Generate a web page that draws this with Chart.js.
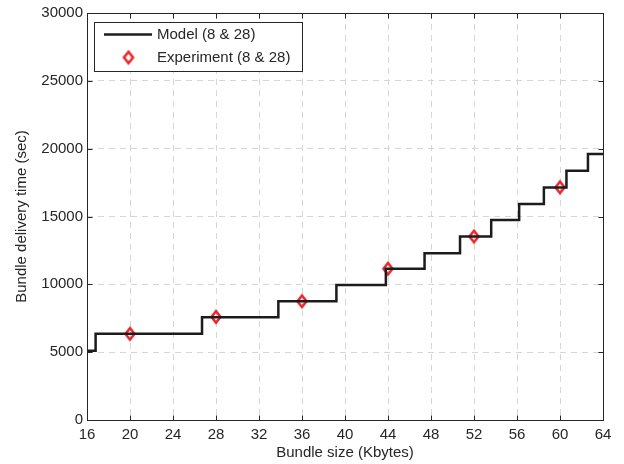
<!DOCTYPE html>
<html>
<head>
<meta charset="utf-8">
<script src="https://cdn.jsdelivr.net/npm/chart.js@4"></script>
<style>
  html, body { margin: 0; padding: 0; background: #fff; }
  #wrap { width: 624px; height: 464px; }
</style>
</head>
<body>
<div id="wrap"><canvas id="delayChart" width="624" height="464"></canvas></div>
<script>
// model: bundle size at which each step starts, and the delivery time of that step
const modelSize = [16, 16.8, 26.7, 33.8, 39.2, 43.8, 47.4, 50.7, 53.6, 56.2, 58.5, 60.6, 62.6, 64];
const modelTime = [5100, 6350, 7580, 8750, 9950, 11150, 12300, 13530, 14750, 15920, 17130, 18380, 19600, 19600];
// measured points
const expSize = [20, 28, 36, 44, 52, 60];
const expTime = [6350, 7600, 8750, 11150, 13530, 17150];
// axis ticks
const xTicks = [16, 20, 24, 28, 32, 36, 40, 44, 48, 52, 56, 60, 64];
const yTicks = [0, 5000, 10000, 15000, 20000, 25000, 30000];

const FONT = 'Liberation Sans, Arial, Helvetica, sans-serif';
const INK = '#262626';
const RED = '#e8262d';

// tall open diamond used for the experiment markers
function diamond(w, h, lw, color) {
  const c = document.createElement('canvas');
  c.width = w + lw * 2 + 2;
  c.height = h + lw * 2 + 2;
  const g = c.getContext('2d');
  const cx = c.width / 2, cy = c.height / 2;
  g.strokeStyle = color;
  g.lineWidth = lw;
  g.lineJoin = 'miter';
  g.beginPath();
  g.moveTo(cx, cy - h / 2);
  g.lineTo(cx + w / 2, cy);
  g.lineTo(cx, cy + h / 2);
  g.lineTo(cx - w / 2, cy);
  g.closePath();
  g.stroke();
  return c;
}
const marker = diamond(9, 11.5, 2.6, RED);

// frame around the plot with inward ticks on all four sides
const frame = {
  id: 'frame',
  afterDatasetsDraw(chart) {
    const { ctx, chartArea: a, scales } = chart;
    const L = Math.round(a.left) + 0.5, R = Math.round(a.right) + 0.5;
    const T = Math.round(a.top) + 0.5, B = Math.round(a.bottom) + 0.5;
    ctx.save();
    ctx.strokeStyle = INK;
    ctx.lineWidth = 1;
    ctx.strokeRect(L, T, R - L, B - T);
    ctx.beginPath();
    xTicks.forEach(v => {
      const x = Math.round(scales.x.getPixelForValue(v)) + 0.5;
      ctx.moveTo(x, B); ctx.lineTo(x, B - 5);
      ctx.moveTo(x, T); ctx.lineTo(x, T + 5);
    });
    yTicks.forEach(v => {
      const y = Math.round(scales.y.getPixelForValue(v)) + 0.5;
      ctx.moveTo(L, y); ctx.lineTo(L + 5, y);
      ctx.moveTo(R, y); ctx.lineTo(R - 5, y);
    });
    ctx.stroke();
    ctx.restore();
  }
};

// legend box in the upper-left corner
const legendBox = {
  id: 'legendBox',
  afterDraw(chart) {
    const ctx = chart.ctx;
    const ds = chart.data.datasets;
    ctx.save();
    ctx.fillStyle = '#fff';
    ctx.fillRect(94.5, 22.5, 208, 49);
    ctx.strokeStyle = INK;
    ctx.lineWidth = 1;
    ctx.strokeRect(94.5, 22.5, 208, 49);
    ctx.strokeStyle = '#1c1c1c';
    ctx.lineWidth = 2.5;
    ctx.beginPath();
    ctx.moveTo(104, 34.5);
    ctx.lineTo(152, 34.5);
    ctx.stroke();
    ctx.drawImage(marker, 128.5 - marker.width / 2, 57.5 - marker.height / 2);
    ctx.fillStyle = INK;
    ctx.font = '15px ' + FONT;
    ctx.textBaseline = 'middle';
    ctx.fillText(ds[0].label, 157, 35);
    ctx.fillText(ds[1].label, 157, 57.5);
    ctx.restore();
  }
};

new Chart(document.getElementById('delayChart'), {
  type: 'line',
  data: {
    datasets: [
      {
        label: 'Model (8 & 28)',
        data: modelSize.map((s, i) => ({ x: s, y: modelTime[i] })),
        stepped: 'before',
        borderColor: '#1c1c1c',
        borderWidth: 2.5,
        pointRadius: 0,
        fill: false
      },
      {
        label: 'Experiment (8 & 28)',
        data: expSize.map((s, i) => ({ x: s, y: expTime[i] })),
        showLine: false,
        pointStyle: marker,
        pointRadius: 7,
        borderColor: RED
      }
    ]
  },
  options: {
    responsive: false,
    animation: false,
    events: [],
    layout: { padding: { top: 13, right: 21, left: 0, bottom: 0 } },
    plugins: { legend: { display: false }, tooltip: { enabled: false } },
    scales: {
      x: {
        type: 'linear',
        min: 16, max: 64,
        afterBuildTicks: s => { s.ticks = xTicks.map(v => ({ value: v })); },
        afterFit: s => { s.height = 44; },
        grid: { color: '#d6d6d6', lineWidth: 1, drawTicks: false },
        border: { display: false, dash: [6, 5] },
        ticks: { color: INK, font: { family: FONT, size: 15 }, padding: 6, maxRotation: 0, callback: v => String(v) },
        title: { display: true, text: 'Bundle size (Kbytes)', color: INK, font: { family: FONT, size: 15 }, padding: { top: 0, bottom: 2 } }
      },
      y: {
        min: 0, max: 30000,
        afterBuildTicks: s => { s.ticks = yTicks.map(v => ({ value: v })); },
        afterFit: s => { s.width = 87; },
        grid: { color: '#d6d6d6', lineWidth: 1, drawTicks: false },
        border: { display: false, dash: [6, 5] },
        ticks: { color: INK, font: { family: FONT, size: 15 }, padding: 4, callback: v => String(v) },
        title: { display: true, text: 'Bundle delivery time (sec)', color: INK, font: { family: FONT, size: 15 }, padding: { top: 13, bottom: 0 } }
      }
    }
  },
  plugins: [frame, legendBox]
});
</script>
</body>
</html>
